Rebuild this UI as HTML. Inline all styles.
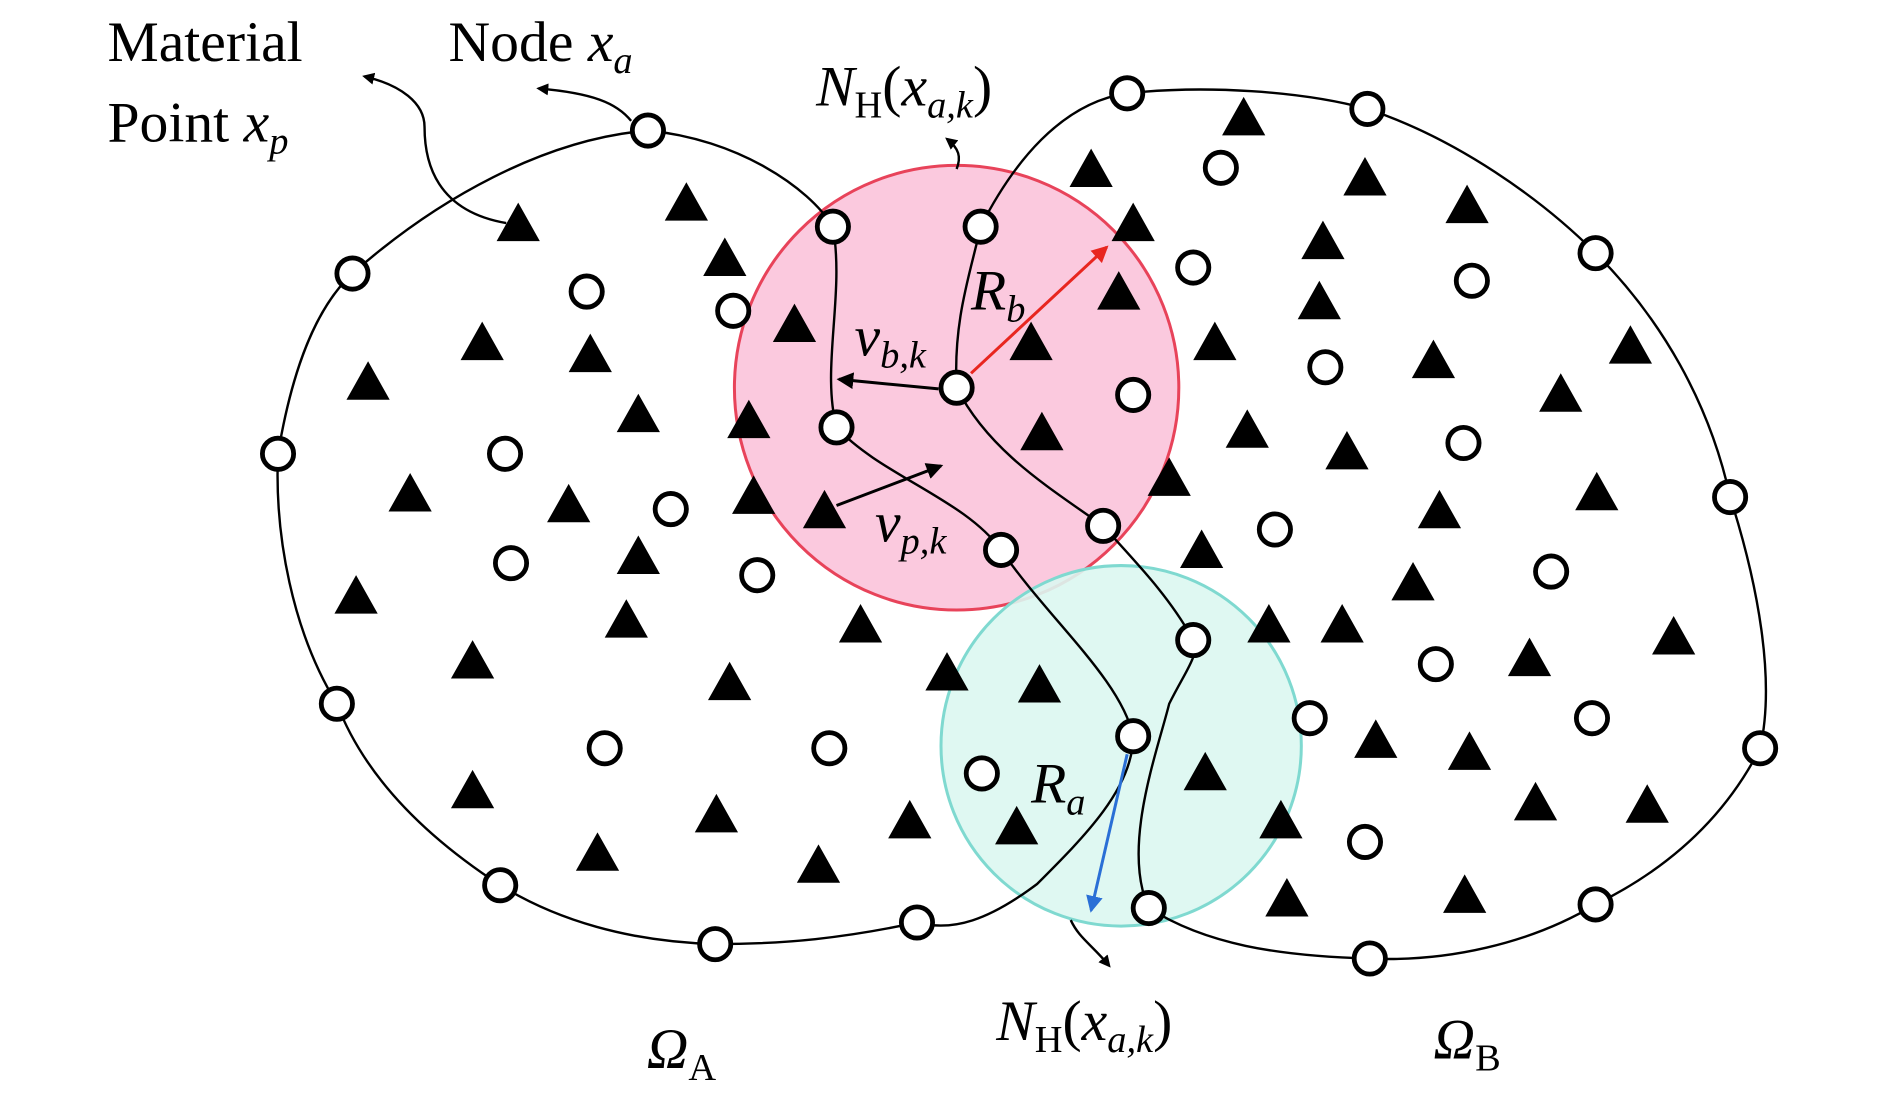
<!DOCTYPE html>
<html><head><meta charset="utf-8"><style>html,body{margin:0;padding:0;background:#fff}svg{display:block}</style></head>
<body>
<svg width="1890" height="1098" viewBox="0 0 1550 900" preserveAspectRatio="none" xmlns="http://www.w3.org/2000/svg" font-family="Liberation Serif, serif">
<defs>
<marker id="ak" markerWidth="10" markerHeight="10" refX="8" refY="5" orient="auto" markerUnits="userSpaceOnUse"><path d="M0,0 L10,5 L0,10 z" fill="#000"/></marker>
<marker id="ar" markerWidth="14" markerHeight="14" refX="12" refY="7" orient="auto" markerUnits="userSpaceOnUse"><path d="M0,0 L14,7 L0,14 z" fill="#e8261f"/></marker>
<marker id="ab" markerWidth="14" markerHeight="14" refX="12" refY="7" orient="auto" markerUnits="userSpaceOnUse"><path d="M0,0 L14,7 L0,14 z" fill="#2a6fd6"/></marker>
<marker id="ab2" markerWidth="14" markerHeight="14" refX="12" refY="7" orient="auto" markerUnits="userSpaceOnUse"><path d="M0,0 L14,7 L0,14 z" fill="#000"/></marker>
</defs>
<g transform="translate(3.42,5.55) scale(0.985)">
<circle cx="793" cy="317" r="185" fill="#fbc9de" stroke="#e8435a" stroke-width="2.5"/>
<circle cx="930" cy="615" r="150" fill="#dcf7f1" fill-opacity="0.9" stroke="#7fd9d0" stroke-width="2.5"/>
<g fill="none" stroke="#000" stroke-width="2">
<path d="M536,103 C610,110 670,150 690,183 C700,240 680,300 693,350 C730,390 800,410 830,452 C870,510 930,560 940,607 C940,650 900,690 860,730 C820,760 790,770 760,762 C700,775 650,780 592,780 C520,778 460,760 413,731 C350,690 300,640 277,580 C240,520 225,440 228,372 C240,300 260,250 290,222 C360,160 450,110 536,103 Z"/>
<path d="M813,183 C840,130 880,80 935,72 C1000,65 1080,70 1135,85 C1210,110 1280,160 1325,205 C1380,260 1420,330 1437,408 C1460,480 1475,560 1462,617 C1430,680 1380,720 1325,747 C1270,780 1200,795 1137,792 C1060,790 1000,780 953,750 C930,700 960,620 970,580 C985,550 995,540 990,527 C970,490 940,460 915,432 C870,400 820,370 793,317 C790,260 805,220 813,183 Z"/>
</g>
<g fill="#000">
<path d="M428,163 l18,32 h-36z M568,146 l18,32 h-36z M600,192 l18,32 h-36z M398,262 l18,32 h-36z M488,272 l18,32 h-36z M303,295 l18,32 h-36z M528,322 l18,32 h-36z M620,327 l18,32 h-36z M658,247 l18,32 h-36z M338,388 l18,32 h-36z M470,397 l18,32 h-36z M624,390 l18,32 h-36z M683,402 l18,32 h-36z M528,440 l18,32 h-36z M293,473 l18,32 h-36z M518,493 l18,32 h-36z M713,497 l18,32 h-36z M390,527 l18,32 h-36z M604,545 l18,32 h-36z M785,537 l18,32 h-36z M862,547 l18,32 h-36z M390,635 l18,32 h-36z M593,655 l18,32 h-36z M754,660 l18,32 h-36z M843,665 l18,32 h-36z M494,687 l18,32 h-36z M678,697 l18,32 h-36z M940,163 l18,32 h-36z M905,118 l18,32 h-36z M928,220 l18,32 h-36z M855,262 l18,32 h-36z M864,337 l18,32 h-36z M1032,75 l18,32 h-36z M1133,125 l18,32 h-36z M1218,148 l18,32 h-36z M1098,178 l18,32 h-36z M1095,228 l18,32 h-36z M1008,262 l18,32 h-36z M1190,277 l18,32 h-36z M1354,265 l18,32 h-36z M1296,305 l18,32 h-36z M1035,335 l18,32 h-36z M1118,353 l18,32 h-36z M970,375 l18,32 h-36z M1326,387 l18,32 h-36z M1195,402 l18,32 h-36z M997,435 l18,32 h-36z M1173,462 l18,32 h-36z M1053,497 l18,32 h-36z M1114,497 l18,32 h-36z M1270,525 l18,32 h-36z M1390,507 l18,32 h-36z M1142,593 l18,32 h-36z M1220,603 l18,32 h-36z M1000,620 l18,32 h-36z M1063,660 l18,32 h-36z M1275,645 l18,32 h-36z M1368,647 l18,32 h-36z M1068,725 l18,32 h-36z M1216,722 l18,32 h-36z"/>
</g>
<g fill="#fff" stroke="#000" stroke-width="4">
<circle cx="536" cy="103" r="13"/><circle cx="690" cy="183" r="13"/><circle cx="813" cy="183" r="13"/><circle cx="793" cy="317" r="13"/><circle cx="693" cy="350" r="13"/><circle cx="915" cy="432" r="13"/><circle cx="830" cy="452" r="13"/><circle cx="990" cy="527" r="13"/><circle cx="940" cy="607" r="13"/><circle cx="953" cy="750" r="13"/>
<circle cx="290" cy="222" r="13"/><circle cx="228" cy="372" r="13"/><circle cx="277" cy="580" r="13"/><circle cx="413" cy="731" r="13"/><circle cx="592" cy="780" r="13"/><circle cx="760" cy="762" r="13"/>
<circle cx="485" cy="237" r="13"/><circle cx="607" cy="253" r="13"/><circle cx="417" cy="372" r="13"/><circle cx="555" cy="418" r="13"/><circle cx="422" cy="463" r="13"/><circle cx="627" cy="473" r="13"/><circle cx="500" cy="617" r="13"/><circle cx="687" cy="617" r="13"/><circle cx="814" cy="638" r="13"/>
<circle cx="935" cy="72" r="13"/><circle cx="1135" cy="85" r="13"/><circle cx="1013" cy="134" r="13"/><circle cx="1325" cy="205" r="13"/><circle cx="990" cy="217" r="13"/><circle cx="1222" cy="228" r="13"/><circle cx="1100" cy="300" r="13"/><circle cx="940" cy="323" r="13"/><circle cx="1215" cy="363" r="13"/><circle cx="1437" cy="408" r="13"/><circle cx="1058" cy="435" r="13"/><circle cx="1288" cy="470" r="13"/><circle cx="1192" cy="547" r="13"/><circle cx="1087" cy="592" r="13"/><circle cx="1322" cy="592" r="13"/><circle cx="1462" cy="617" r="13"/><circle cx="1133" cy="695" r="13"/><circle cx="1325" cy="747" r="13"/><circle cx="1137" cy="792" r="13"/>
</g>
<g fill="none" stroke-width="2.5">
<line x1="805" y1="305" x2="918" y2="200" stroke="#e8261f" marker-end="url(#ar)"/>
<line x1="935" y1="622" x2="905" y2="752" stroke="#2a6fd6" marker-end="url(#ab)"/>
<line x1="778" y1="318" x2="695" y2="310" stroke="#000" marker-end="url(#ab2)"/>
<line x1="693" y1="415" x2="780" y2="382" stroke="#000" marker-end="url(#ab2)"/>
</g>
<g fill="none" stroke="#000" stroke-width="2">
<path d="M418,180 C360,170 350,130 350,100 C350,80 330,65 300,58" marker-end="url(#ak)"/>
<path d="M522,95 C510,80 490,72 445,68" marker-end="url(#ak)"/>
<path d="M793,135 C797,125 795,118 785,110" marker-end="url(#ak)"/>
<path d="M888,760 C895,775 905,780 920,798" marker-end="url(#ak)"/>
</g>
<g font-size="48" fill="#000">
<text x="86" y="45">Material</text>
<text x="86" y="112">Point <tspan font-style="italic">x</tspan><tspan font-style="italic" font-size="32" dy="10">p</tspan></text>
<text x="370" y="45">Node <tspan font-style="italic">x</tspan><tspan font-style="italic" font-size="32" dy="10">a</tspan></text>
<text x="676" y="82"><tspan font-style="italic">N</tspan><tspan font-size="32" dy="10">H</tspan><tspan dy="-10">(</tspan><tspan font-style="italic">x</tspan><tspan font-style="italic" font-size="32" dy="10">a,k</tspan><tspan dy="-10">)</tspan></text>
<text x="826" y="860"><tspan font-style="italic">N</tspan><tspan font-size="32" dy="10">H</tspan><tspan dy="-10">(</tspan><tspan font-style="italic">x</tspan><tspan font-style="italic" font-size="32" dy="10">a,k</tspan><tspan dy="-10">)</tspan></text>
<text x="805" y="252" font-style="italic">R<tspan font-size="32" dy="10">b</tspan></text>
<text x="855" y="662" font-style="italic">R<tspan font-size="32" dy="10">a</tspan></text>
<text x="708" y="290" font-style="italic">v<tspan font-size="32" dy="10">b,k</tspan></text>
<text x="725" y="445" font-style="italic">v<tspan font-size="32" dy="10">p,k</tspan></text>
<text x="535" y="883" font-style="italic">Ω<tspan font-style="normal" font-size="32" dy="10">A</tspan></text>
<text x="1190" y="875" font-style="italic">Ω<tspan font-style="normal" font-size="32" dy="10">B</tspan></text>
</g>
</g>
</svg>
</body></html>
